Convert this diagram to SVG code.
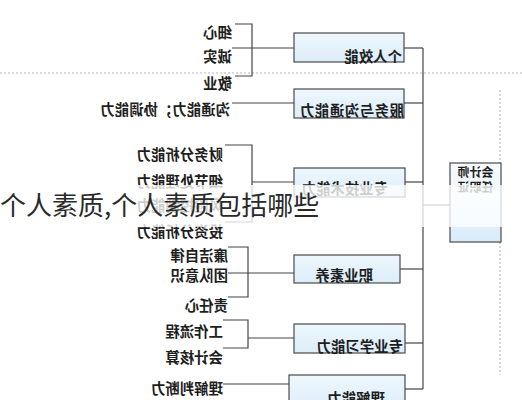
<svg xmlns="http://www.w3.org/2000/svg" width="522" height="400" viewBox="0 0 522 400">
<defs>
<linearGradient id="bf" x1="0" y1="0" x2="0" y2="1">
<stop offset="0" stop-color="#eef7fd"/>
<stop offset="1" stop-color="#dcedf9"/>
</linearGradient>
<linearGradient id="rf" x1="0" y1="0" x2="0" y2="1">
<stop offset="0" stop-color="#f7fbfe"/>
<stop offset="1" stop-color="#d9ecfa"/>
</linearGradient>
</defs>
<style>
.box{fill:url(#bf);stroke:#4a4a4a;stroke-width:1.2}
.root{fill:url(#rf);stroke:#4a4a4a;stroke-width:1.2}
.ln{fill:none;stroke:#444;stroke-width:1.2}
.dot{fill:none;stroke:#b8b8b8;stroke-width:1.2;stroke-dasharray:2 2}
.t{font-family:"Noto Sans CJK SC","Noto Sans CJK TC",sans-serif;font-size:14.4px;font-weight:bold;fill:#1e1e1e}
.rt{font-family:"Noto Sans CJK SC",sans-serif;font-size:12px;font-weight:bold;fill:#1e1e1e}
.title{font-family:"Noto Sans CJK SC","Noto Sans CJK TC",sans-serif;font-size:26px;fill:#2a2a2a}
</style>
<rect width="522" height="400" fill="#ffffff"/>
<g id="diagram" transform="matrix(-1 0 0 1 522 0)">
<g id="guides">
<line class="dot" x1="0" y1="73" x2="522" y2="73"/>
<line class="dot" x1="22" y1="90" x2="22" y2="163"/>
<line class="dot" x1="22" y1="242" x2="22" y2="375"/>
</g>
<g id="connectors">
<path class="ln" d="M99 48 V389"/>
<path class="ln" d="M72 205 H99"/>
<path class="ln" d="M99 48 H118"/>
<path class="ln" d="M99 103 H118"/>
<path class="ln" d="M99 182 H117"/>
<path class="ln" d="M99 269 H122"/>
<path class="ln" d="M99 343 H117"/>
<path class="ln" d="M99 389 H117"/>
<path class="ln" d="M287 24 H270 V76 H287"/>
<path class="ln" d="M228 48 H290"/>
<path class="ln" d="M228 103 H290"/>
<path class="ln" d="M297 145 H270 V222 H297"/>
<path class="ln" d="M228 182 H270"/>
<path class="ln" d="M294 247 H274 V297 H294"/>
<path class="ln" d="M228 273 H294"/>
<path class="ln" d="M299 320 H274 V348 H299"/>
<path class="ln" d="M228 338 H274"/>
<path class="ln" d="M233 384 H299"/>
</g>
<g id="root">
<rect class="root" x="21" y="163" width="51" height="79"/>
<text class="rt" x="46.5" y="177" text-anchor="middle">会计师</text>
<text class="rt" x="46.5" y="192" text-anchor="middle">任职证</text>
</g>
<g id="n1">
<rect class="box" x="118" y="33" width="110" height="29"/>
<text class="t" x="120" y="61.5">个人效能</text>
</g>
<g id="n2">
<rect class="box" x="118" y="89" width="110" height="29"/>
<text class="t" x="118" y="116" textLength="104">服务与沟通能力</text>
</g>
<g id="n3">
<rect class="box" x="117" y="168" width="111" height="29"/>
<text class="t" x="134" y="194">专业技术能力</text>
</g>
<g id="n4">
<rect class="box" x="122" y="255" width="106" height="28"/>
<text class="t" x="149" y="281">职业素养</text>
</g>
<g id="n5">
<rect class="box" x="117" y="324" width="111" height="29"/>
<text class="t" x="119" y="352">专业学习能力</text>
</g>
<g id="n6">
<rect class="box" x="117" y="375" width="116" height="35"/>
<text class="t" x="137" y="404">理解能力</text>
</g>
<g id="labels">
<text class="t" x="290" y="38">细心</text>
<text class="t" x="290" y="61.5">诚实</text>
<text class="t" x="290" y="88.5">敬业</text>
<text class="t" x="292" y="114.5">沟通能力；协调能力</text>
<text class="t" x="299" y="159.5">财务分析能力</text>
<text class="t" x="299" y="186.5">细节处理能力</text>
<text class="t" x="299" y="211">风险控制能力</text>
<text class="t" x="299" y="236.5">投资分析能力</text>
<text class="t" x="294" y="261">廉洁自律</text>
<text class="t" x="294" y="281">团队意识</text>
<text class="t" x="294" y="310.5">责任心</text>
<text class="t" x="299" y="336.5">工作流程</text>
<text class="t" x="299" y="362.5">会计核算</text>
<text class="t" x="299" y="393.5">理解判断力</text>
</g>
</g>
<rect id="band" x="0" y="185" width="522" height="42" fill="#ffffff" fill-opacity="0.78"/>
<text class="title" x="0" y="215">个人素质,个人素质包括哪些</text>
</svg>
